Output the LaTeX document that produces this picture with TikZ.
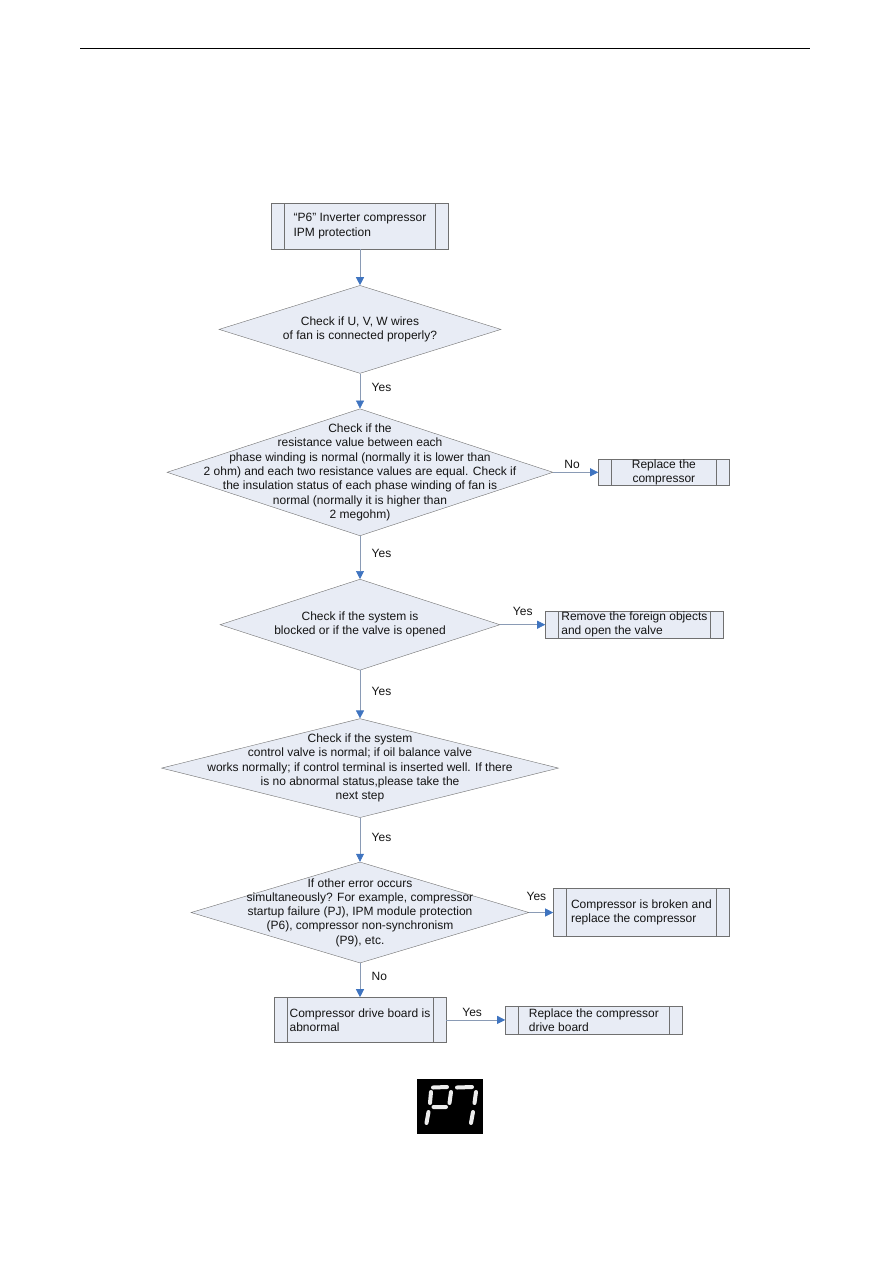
\documentclass[tikz,border=0pt]{standalone}
\usepackage{fontspec}
\setmainfont{Liberation Sans}
\usepackage{xcolor}
\usepackage{tikz}
\usetikzlibrary{shapes.geometric, arrows.meta, positioning}
\definecolor{boxfill}{HTML}{E8ECF5}
\definecolor{boxline}{HTML}{707070}
\definecolor{arrowline}{HTML}{8A9BB5}
\definecolor{arrowblue}{HTML}{3F74C0}
\definecolor{textprimary}{HTML}{141414}
\definecolor{segment}{HTML}{EDEDED}
\newcommand{\chartfont}{\fontsize{12}{14.3}\selectfont}

\begin{document}
\begin{tikzpicture}[
    x=1pt, y=-1pt,
    process/.style={rectangle, draw=boxline, fill=boxfill, inner sep=0pt, align=left, text=textprimary, font=\chartfont,
        path picture={
            \draw[boxline] ([xshift=13pt]path picture bounding box.north west) -- ([xshift=13pt]path picture bounding box.south west);
            \draw[boxline] ([xshift=-13pt]path picture bounding box.north east) -- ([xshift=-13pt]path picture bounding box.south east);
        }},
    decision/.style={diamond, draw=boxline, fill=boxfill, inner sep=0pt},
    dtext/.style={align=center, text=textprimary, font=\chartfont},
    arrow/.style={-{Triangle[length=8pt, width=8pt, color=arrowblue]}, draw=arrowline, line width=0.7pt},
    lbl/.style={text=textprimary, font=\chartfont}
]
    \useasboundingbox (0,0) rectangle (893,1263);
    \draw[line width=1pt] (80,49) -- (810,49);

    % Nodes
    \node[process, minimum width=177pt, minimum height=46pt] (ipm) at (360,226) {“P6” Inverter compressor\\IPM protection};
    \node[decision, minimum width=282pt, minimum height=88pt, below=36pt of ipm,
        label={[dtext]center:{Check if U, V, W wires\\of fan is connected properly?}}] (fanwires) {};
    \node[decision, minimum width=386pt, minimum height=127pt, below=35pt of fanwires,
        label={[dtext]center:{Check if the\\resistance value between each\\phase winding is normal (normally it is lower than\\2 ohm) and each two resistance values are equal. Check if\\the insulation status of each phase winding of fan is\\normal (normally it is higher than\\2 megohm)}}] (winding) {};
    \node[process, align=center, minimum width=131pt, minimum height=26pt, right=45pt of winding] (replcomp) {Replace the\\compressor};
    \node[decision, minimum width=280pt, minimum height=91pt, below=43pt of winding,
        label={[dtext]center:{Check if the system is\\blocked or if the valve is opened}}] (blocked) {};
    \node[process, minimum width=178pt, minimum height=27pt, right=45pt of blocked] (foreign) {Remove the foreign objects\\and open the valve};
    \node[decision, minimum width=397pt, minimum height=99pt, below=48pt of blocked,
        label={[dtext]center:{Check if the system\\control valve is normal; if oil balance valve\\works normally; if control terminal is inserted well. If there\\is no abnormal status,please take the\\next step}}] (ctrlvalve) {};
    \node[decision, minimum width=338pt, minimum height=101pt, below=44pt of ctrlvalve,
        label={[dtext]center:{If other error occurs\\simultaneously? For example, compressor\\startup failure (PJ), IPM module protection\\(P6), compressor non-synchronism\\(P9), etc.}}] (othererr) {};
    \node[process, minimum width=176pt, minimum height=48pt, right=24pt of othererr] (broken) {Compressor is broken and\\replace the compressor};
    \node[process, minimum width=172pt, minimum height=45pt, below=34pt of othererr] (driveboard) {Compressor drive board is\\abnormal};
    \node[process, minimum width=177pt, minimum height=28pt, right=59pt of driveboard] (repldrive) {Replace the compressor\\drive board};

    % Connections
    \draw[arrow] (ipm) -- (fanwires);
    \draw[arrow] (fanwires) -- node[lbl, right=8pt, pos=0.4] {Yes} (winding);
    \draw[arrow] (winding) -- node[lbl, above, pos=0.42] {No} (replcomp);
    \draw[arrow] (winding) -- node[lbl, right=8pt, pos=0.4] {Yes} (blocked);
    \draw[arrow] (blocked) -- node[lbl, above=5pt, pos=0.5] {Yes} (foreign);
    \draw[arrow] (blocked) -- node[lbl, right=8pt, pos=0.44] {Yes} (ctrlvalve);
    \draw[arrow] (ctrlvalve) -- node[lbl, right=8pt, pos=0.45] {Yes} (othererr);
    \draw[arrow] (othererr) -- node[lbl, above=8pt, pos=0.3] {Yes} (broken);
    \draw[arrow] (othererr) -- node[lbl, right=8pt, pos=0.4] {No} (driveboard);
    \draw[arrow] (driveboard) -- node[lbl, above, pos=0.44] {Yes} (repldrive);

    % Display
    \fill[black] (417,1079) rectangle (483,1134);
    \draw[segment, line width=4pt, line cap=round]
        (433,1087.5) -- (447,1087)
        (431,1092) -- (430,1103)
        (451,1092) -- (449.5,1103)
        (433.5,1107) -- (446,1107)
        (428.5,1112) -- (426.5,1123)
        (457,1087.5) -- (472,1087)
        (476,1092) -- (474.5,1103)
        (473,1112) -- (471,1123);
\end{tikzpicture}
\end{document}
